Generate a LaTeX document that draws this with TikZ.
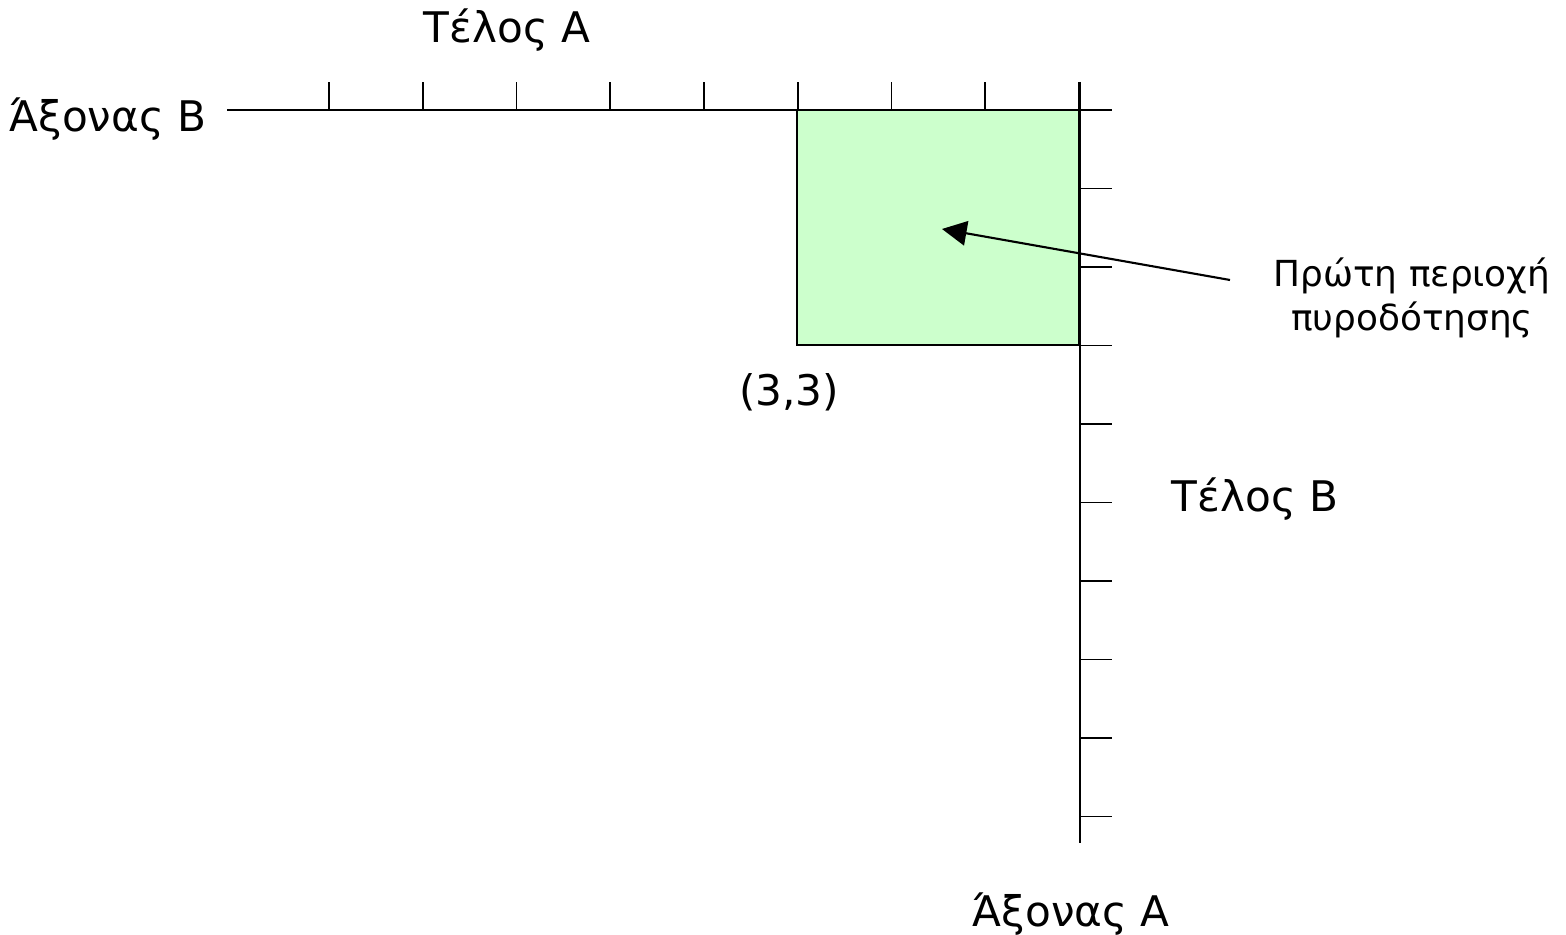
\documentclass[tikz,border=0pt]{standalone}
\usepackage{fontspec}
\setmainfont{DejaVu Sans}
\usepackage{tikz}
\usetikzlibrary{
	arrows.meta,
	positioning,
	calc
}
\usepackage{xcolor}
\definecolor{regiongreen}{HTML}{CCFFCC}

\begin{document}
\begin{tikzpicture}[
		>=Stealth,
		axis/.style={
			line width=0.6pt
		},
		tick/.style={
			line width=0.45pt
		},
		region/.style={
			draw,
			fill=regiongreen,
			line width=0.5pt,
			minimum width=2.82cm,
			minimum height=2.35cm,
			inner sep=0pt
		},
		label/.style={
			font=\fontsize{12}{14}\selectfont,
			inner sep=0pt
		},
		note/.style={
			font=\fontsize{10.2}{12.8}\selectfont,
			align=center,
			inner sep=0pt
		},
		pointer/.style={
			-{Triangle[length=7pt,width=7pt]},
			line width=0.6pt
		}
		]
		
		\useasboundingbox (0,0) rectangle (15.66,9.35);
		
		% Firing region
		\node[region] (first) at (9.38,7.075) {};
		
		% Axis B (top)
		\coordinate (bstart) at (2.27,8.25);
		\coordinate (bend) at (11.12,8.25);
		\draw[axis] (bstart) -- (bend);
		\foreach \i in {0,...,8}
		\draw[tick] (3.29+0.9375*\i,8.25) -- ++(0,0.28);
		
		% Axis A (right)
		\coordinate (atop) at (10.80,8.53);
		\coordinate (abottom) at (10.80,0.92);
		\draw[axis] (atop) -- (abottom);
		\foreach \j in {0,...,9}
		\draw[tick] (10.80,8.25-0.785*\j) -- ++(0.32,0);
		
		% Labels
		\node[label,anchor=base] (endA) at (5.07,8.92) {Τέλος A};
		\node[label,anchor=base east] (axisB) at (2.07,8.03) {Άξονας B};
		\node[label,anchor=base] (corner) at (7.89,5.29) {(3,3)};
		\node[label,anchor=base west] (endB) at (11.71,4.23) {Τέλος B};
		\node[label,anchor=base west] (axisA) at (9.72,0.08) {Άξονας A};
		
		% Arrow to region
		\node[note,anchor=base] (firstnote) at (14.12,6.04) {Πρώτη περιοχή\\πυροδότησης};
		\coordinate (tail) at (12.30,6.55);
		\coordinate (target) at (9.42,7.06);
		\draw[pointer] (tail) -- (target);
		
	\end{tikzpicture}
\end{document}
